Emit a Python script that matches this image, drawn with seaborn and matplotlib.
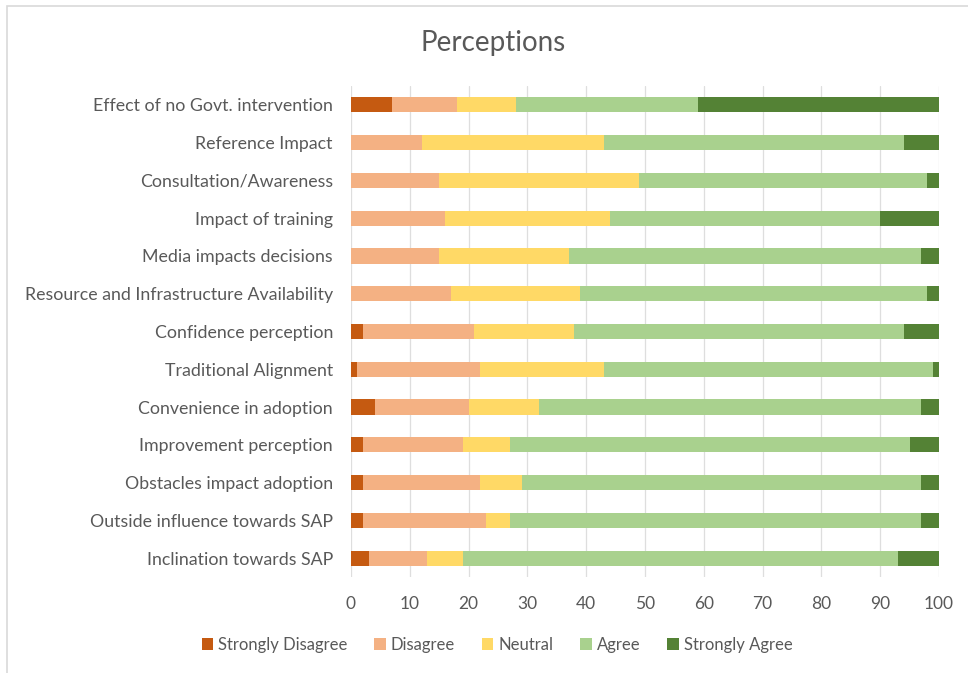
import matplotlib
matplotlib.use("Agg")
import matplotlib.pyplot as plt
from matplotlib.patches import Rectangle, Patch
import numpy as np
import pandas as pd
import seaborn as sns

# Survey statements, listed top to bottom
categories = [
    "Effect of no Govt. intervention",
    "Reference Impact",
    "Consultation/Awareness",
    "Impact of training",
    "Media impacts decisions",
    "Resource and Infrastructure Availability",
    "Confidence perception",
    "Traditional Alignment",
    "Convenience in adoption",
    "Improvement perception",
    "Obstacles impact adoption",
    "Outside influence towards SAP",
    "Inclination towards SAP",
]

# Percentage of respondents per response level
strongly_disagree = [7, 0, 0, 0, 0, 0, 2, 1, 4, 2, 2, 2, 3]
disagree          = [11, 12, 15, 16, 15, 17, 19, 21, 16, 17, 20, 21, 10]
neutral           = [10, 31, 34, 28, 22, 22, 17, 21, 12, 8, 7, 4, 6]
agree             = [31, 51, 49, 46, 60, 59, 56, 56, 65, 68, 68, 70, 74]
strongly_agree    = [41, 6, 2, 10, 3, 2, 6, 1, 3, 5, 3, 3, 7]

levels = ["Strongly Disagree", "Disagree", "Neutral", "Agree", "Strongly Agree"]
colors = ["#C55A11", "#F4B183", "#FFD966", "#A9D18E", "#548235"]
x_ticks = list(range(0, 101, 10))

df = pd.DataFrame({
    "Statement": categories,
    "Strongly Disagree": strongly_disagree,
    "Disagree": disagree,
    "Neutral": neutral,
    "Agree": agree,
    "Strongly Agree": strongly_agree,
})
cum = df[levels].cumsum(axis=1)

sns.set_theme(style="white")
plt.rcParams["font.family"] = ["Lato", "DejaVu Sans"]
text_color = "#595959"

fig = plt.figure(figsize=(9.68, 6.73), dpi=100)
ax = fig.add_axes([351 / 968, 1 - 577 / 673, 588 / 968, 491 / 673])

# Stacked bars: draw cumulative totals from the widest down so each level shows its own segment
for level, color in reversed(list(zip(levels, colors))):
    sns.barplot(x=cum[level], y=df["Statement"], orient="h", color=color,
                width=0.4, saturation=1, ax=ax, zorder=3, linewidth=0)

ax.set_xlim(0, 100)
ax.set_ylim(12.5, -0.5)
ax.set_xticks(x_ticks)
ax.set_xticklabels([str(t) for t in x_ticks])
ax.set_xlabel("")
ax.set_ylabel("")
ax.grid(axis="x", color="#DEDEDE", linewidth=0.9, zorder=0)
ax.grid(axis="y", visible=False)
for s in ax.spines.values():
    s.set_visible(False)
ax.tick_params(axis="y", length=0, pad=13, labelsize=12.8, labelcolor=text_color)
ax.tick_params(axis="x", length=0, pad=14, labelsize=12.5, labelcolor=text_color)

fig.text(493 / 968, 1 - 43 / 673, "Perceptions", ha="center", va="center",
         fontsize=20, color=text_color)

handles = [Patch(facecolor=c, edgecolor="none") for c in colors]
fig.legend(handles, levels, loc="center", bbox_to_anchor=(497 / 968, 1 - 645 / 673),
           ncol=5, frameon=False, fontsize=12, labelcolor=text_color,
           handlelength=0.7, handleheight=0.7, handletextpad=0.3, columnspacing=1.6)

# Chart area outline
fig.patches.append(Rectangle((7 / 968, -0.1), 1.2, 1 - 6 / 673 + 0.1,
                             transform=fig.transFigure, fill=False,
                             edgecolor="#D9D9D9", linewidth=1.2))

fig.savefig("out.png", dpi=100)
